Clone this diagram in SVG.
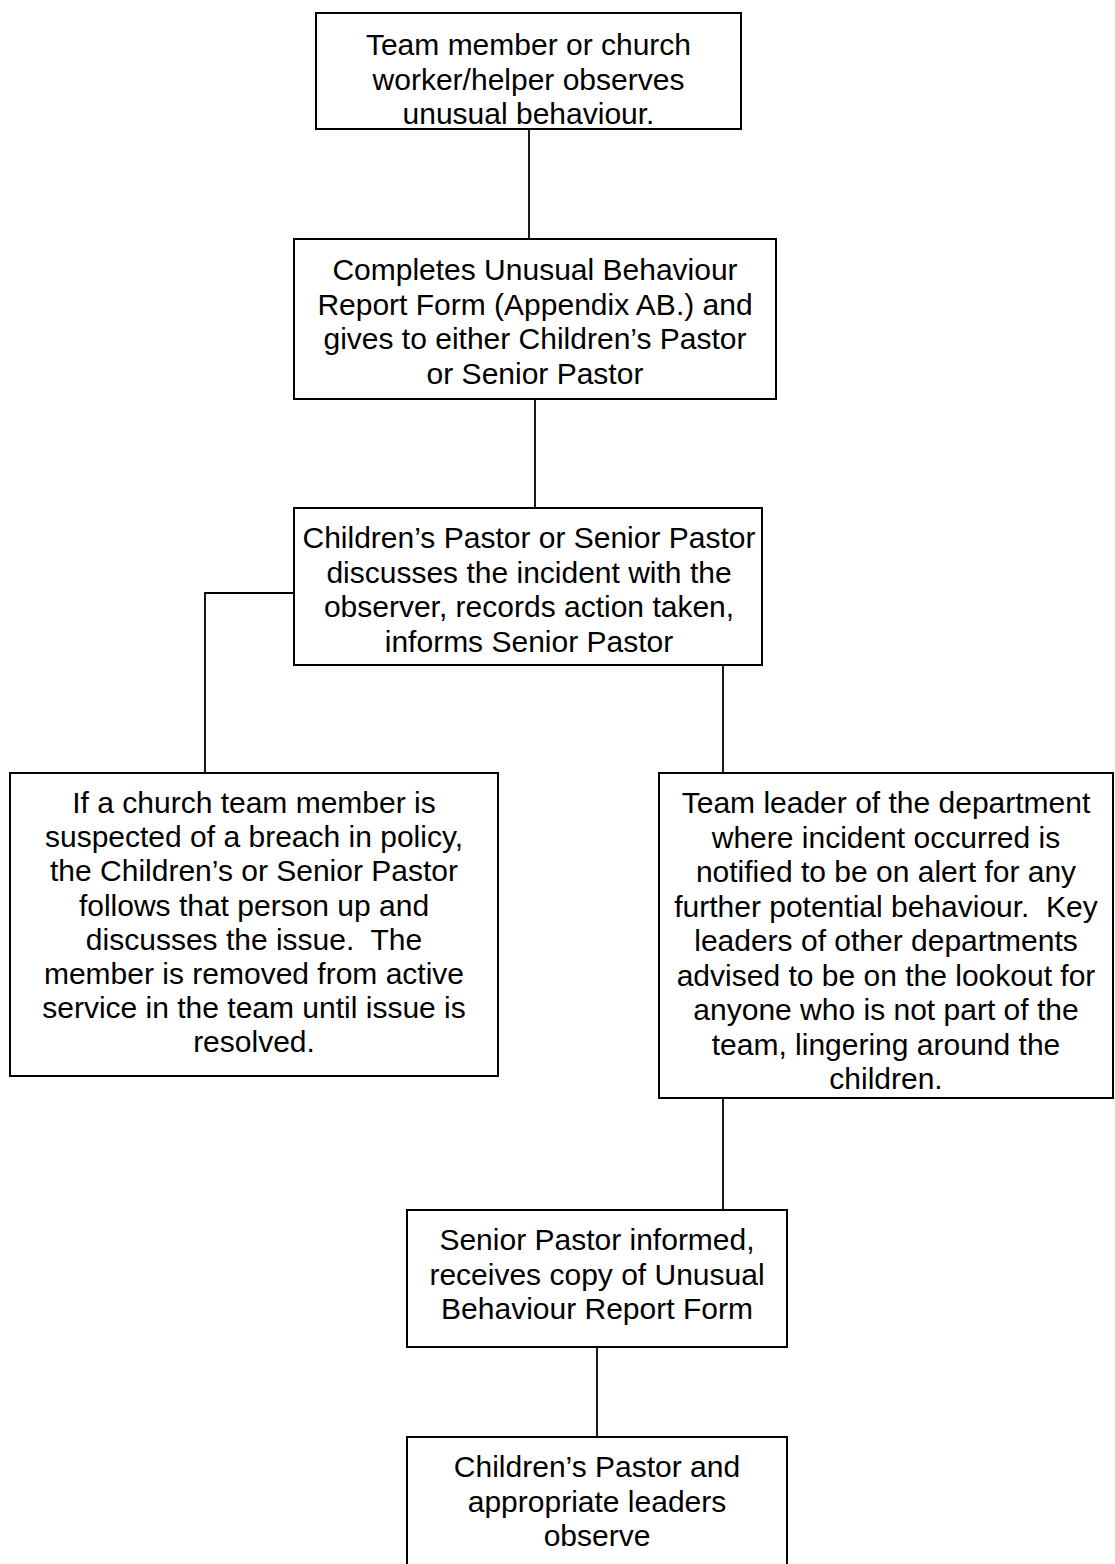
<svg xmlns="http://www.w3.org/2000/svg" width="1115" height="1564" viewBox="0 0 1115 1564">
<style>
.box{fill:#fff;stroke:#000;stroke-width:2}
.ln{fill:none;stroke:#000;stroke-width:1.8}
text{font-family:"Liberation Sans",Arial,sans-serif;font-size:30px;fill:#000;text-anchor:middle}
</style>
<rect width="1115" height="1564" fill="#fff"/>
<g id="connectors">
<line class="ln" x1="529" y1="129" x2="529" y2="239"/>
<line class="ln" x1="535" y1="399" x2="535" y2="508"/>
<polyline class="ln" points="294,593 205,593 205,773"/>
<line class="ln" x1="723" y1="665" x2="723" y2="773"/>
<line class="ln" x1="723" y1="1098" x2="723" y2="1210"/>
<line class="ln" x1="597" y1="1347" x2="597" y2="1437"/>
</g>
<g id="n1">
<rect class="box" x="316" y="13" width="425" height="116"/>
<text x="528.5" y="55">Team member or church</text>
<text x="528.5" y="89.5">worker/helper observes</text>
<text x="528.5" y="124">unusual behaviour.</text>
</g>
<g id="n2">
<rect class="box" x="294" y="239" width="482" height="160"/>
<text x="535" y="280">Completes Unusual Behaviour</text>
<text x="535" y="314.5">Report Form (Appendix AB.) and</text>
<text x="535" y="349">gives to either Children’s Pastor</text>
<text x="535" y="383.5">or Senior Pastor</text>
</g>
<g id="n3">
<rect class="box" x="294" y="508" width="468" height="157"/>
<text x="529" y="548">Children’s Pastor or Senior Pastor</text>
<text x="529" y="582.5">discusses the incident with the</text>
<text x="529" y="617">observer, records action taken,</text>
<text x="529" y="651.5">informs Senior Pastor</text>
</g>
<g id="n4">
<rect class="box" x="10" y="773" width="488" height="303"/>
<text x="254" y="813">If a church team member is</text>
<text x="254" y="847.2">suspected of a breach in policy,</text>
<text x="254" y="881.4">the Children’s or Senior Pastor</text>
<text x="254" y="915.6">follows that person up and</text>
<text x="254" y="949.8" xml:space="preserve">discusses the issue.  The</text>
<text x="254" y="984">member is removed from active</text>
<text x="254" y="1018.2">service in the team until issue is</text>
<text x="254" y="1052.4">resolved.</text>
</g>
<g id="n5">
<rect class="box" x="659" y="773" width="454" height="325"/>
<text x="886" y="813">Team leader of the department</text>
<text x="886" y="847.5">where incident occurred is</text>
<text x="886" y="882">notified to be on alert for any</text>
<text x="886" y="916.5" xml:space="preserve">further potential behaviour.  Key</text>
<text x="886" y="951">leaders of other departments</text>
<text x="886" y="985.5">advised to be on the lookout for</text>
<text x="886" y="1020">anyone who is not part of the</text>
<text x="886" y="1054.5">team, lingering around the</text>
<text x="886" y="1089">children.</text>
</g>
<g id="n6">
<rect class="box" x="407" y="1210" width="380" height="137"/>
<text x="597" y="1250">Senior Pastor informed,</text>
<text x="597" y="1284.5">receives copy of Unusual</text>
<text x="597" y="1319">Behaviour Report Form</text>
</g>
<g id="n7">
<rect class="box" x="407" y="1437" width="380" height="140"/>
<text x="597" y="1477">Children’s Pastor and</text>
<text x="597" y="1511.5">appropriate leaders</text>
<text x="597" y="1546">observe</text>
</g>
</svg>
